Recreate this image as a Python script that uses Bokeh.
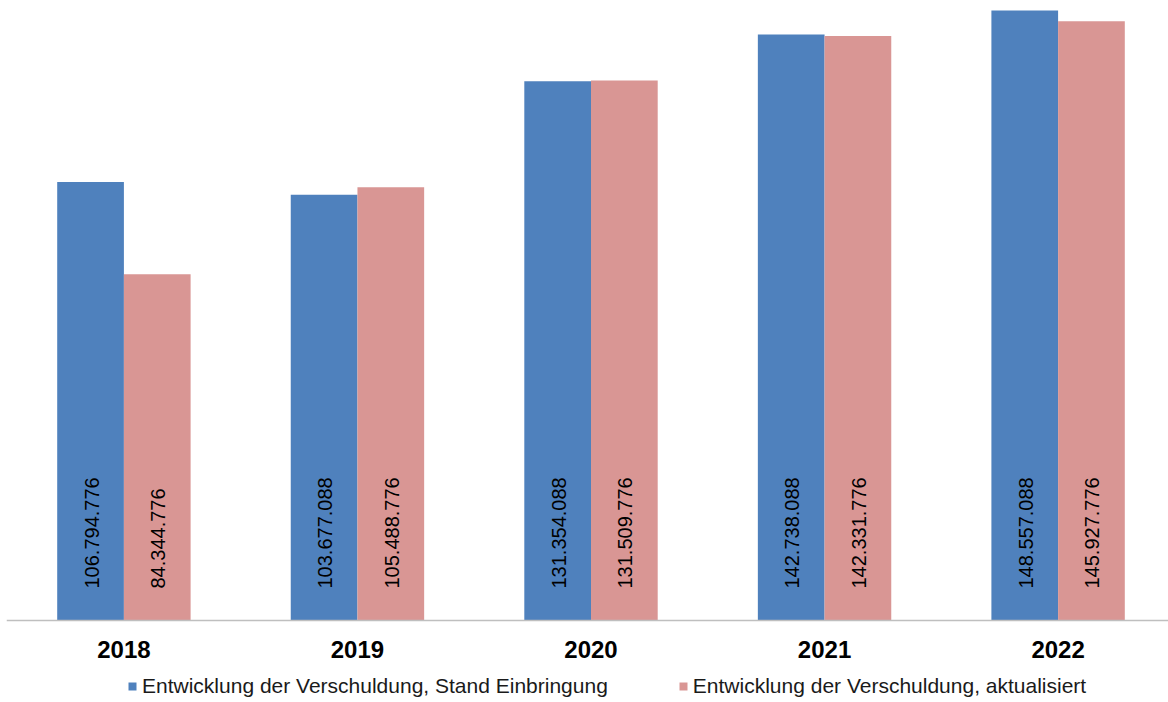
import math
from bokeh.plotting import figure
from bokeh.models import ColumnDataSource, Range1d, FixedTicker, Legend, LegendItem
from bokeh.transform import dodge
from bokeh.core.properties import value
from bokeh.embed import file_html
from bokeh.resources import INLINE

years = ["2018", "2019", "2020", "2021", "2022"]
stand_einbringung = [106794776, 103677088, 131354088, 142738088, 148557088]
aktualisiert = [84344776, 105488776, 131509776, 142331776, 145927776]
series_names = ["Entwicklung der Verschuldung, Stand Einbringung",
                "Entwicklung der Verschuldung, aktualisiert"]
colors = ["#4F81BD", "#D99694"]

def fmt(v):
    return f"{v:,}".replace(",", ".")

xs = list(range(len(years)))
src = ColumnDataSource(dict(
    x=xs,
    a=stand_einbringung,
    b=aktualisiert,
    la=[fmt(v) for v in stand_einbringung],
    lb=[fmt(v) for v in aktualisiert],
    zero=[0] * len(years),
))

W, H = 1168, 702
p = figure(width=W, height=H, output_backend="svg", toolbar_location=None,
           x_range=Range1d(-0.5027, 4.4727), y_range=Range1d(-19.97e6, 151.0e6),
           y_axis_location=None, min_border_left=6, min_border_right=0,
           min_border_top=0, min_border_bottom=0)
p.outline_line_color = None
p.xgrid.visible = False
p.ygrid.visible = False
p.background_fill_color = "white"

bw = 0.2856
r1 = p.vbar(x=dodge("x", -bw / 2), top="a", width=bw, source=src,
            fill_color=colors[0], line_color=None)
r2 = p.vbar(x=dodge("x", bw / 2), top="b", width=bw, source=src,
            fill_color=colors[1], line_color=None)

for col, off in (("la", -bw / 2), ("lb", bw / 2)):
    p.text(x=dodge("x", off), y="zero", text=col, source=src,
           angle=math.pi / 2, text_align="left", text_baseline="middle",
           y_offset=-32, x_offset=1,
           text_font=value("Liberation Sans"), text_font_size="20px",
           text_color="black")

ax = p.xaxis[0]
ax.fixed_location = 0
ax.ticker = FixedTicker(ticks=xs)
ax.major_label_overrides = {i: y for i, y in enumerate(years)}
ax.major_label_text_font = "Liberation Sans"
ax.major_label_text_font_style = "bold"
ax.major_label_text_font_size = "24px"
ax.major_label_text_color = "black"
ax.major_tick_line_color = None
ax.minor_tick_line_color = None
ax.axis_line_color = "#BFBFBF"
ax.axis_line_width = 1.5
ax.major_label_standoff = 14

legend = Legend(items=[LegendItem(label=series_names[0], renderers=[r1]),
                       LegendItem(label=series_names[1], renderers=[r2])],
                orientation="horizontal", location=(121, 4),
                padding=0, margin=0, spacing=70, label_standoff=5,
                glyph_width=10, glyph_height=10, label_height=20,
                label_text_font="Liberation Sans", label_text_font_size="21px",
                label_text_color="#1a1a1a", border_line_color=None,
                background_fill_alpha=0)
p.add_layout(legend)

open("out.html", "w").write(file_html(p, INLINE))
